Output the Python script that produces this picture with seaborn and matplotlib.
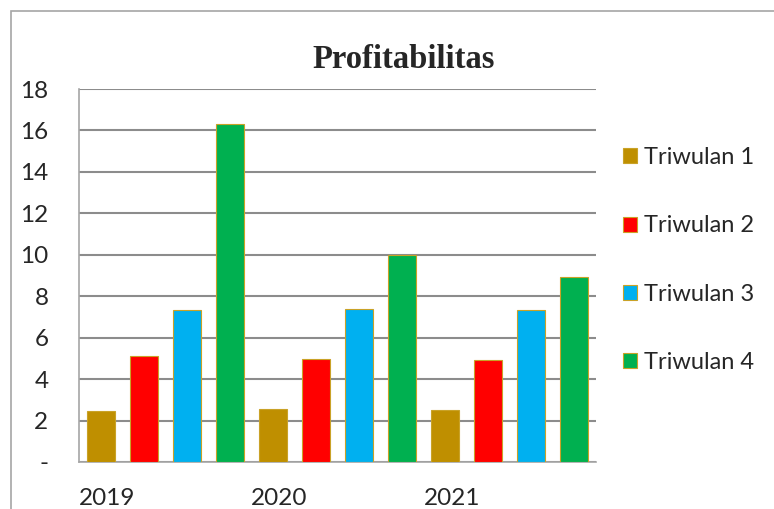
import numpy as np
import pandas as pd
import matplotlib
matplotlib.use("Agg")
import matplotlib.pyplot as plt
from matplotlib.patches import Rectangle
import seaborn as sns

# data
years = ["2019", "2020", "2021"]
quarters = ["Triwulan 1", "Triwulan 2", "Triwulan 3", "Triwulan 4"]
tw1 = [2.45, 2.55, 2.5]
tw2 = [5.1, 4.97, 4.92]
tw3 = [7.33, 7.38, 7.33]
tw4 = [16.31, 9.99, 8.93]
colors = ["#BF8F00", "#FF0000", "#00B0F0", "#00B050"]

df = pd.DataFrame({"year": years * 4,
                   "quarter": np.repeat(quarters, 3),
                   "value": tw1 + tw2 + tw3 + tw4})

sns.set_style("white")
plt.rcParams["font.family"] = ["Lato", "DejaVu Sans"]

fig = plt.figure(figsize=(7.74, 5.09), dpi=100)
ax = fig.add_axes([79 / 774, 47 / 509, 517 / 774, 373 / 509])

sns.barplot(data=df, x="year", y="value", hue="quarter", palette=colors,
            saturation=1, width=1.0, gap=0.35, edgecolor="#C9A227",
            linewidth=0.8, ax=ax, legend=True, zorder=3)

ax.set_xlim(-0.5, 2.5)
ax.set_ylim(0, 18)
ax.set_yticks(range(0, 19, 2))
ax.set_yticklabels(["-"] + [str(v) for v in range(2, 19, 2)])
ax.set_xticks(np.arange(3) - 0.337)
ax.set_xticklabels(years)
ax.tick_params(axis="y", length=0, pad=22, labelsize=17.5)
ax.tick_params(axis="x", length=0, pad=19, labelsize=17.5)
ax.set_xlabel("")
ax.set_ylabel("")
ax.grid(axis="y", color="#8C8C8C", linewidth=1.5, zorder=0)
ax.set_axisbelow(True)
for s in ["top", "right"]:
    ax.spines[s].set_visible(False)
for s in ["left", "bottom"]:
    ax.spines[s].set_color("#A6A6A6")
    ax.spines[s].set_linewidth(1.2)

handles, labels = ax.get_legend_handles_labels()
ax.get_legend().remove()
fig.legend(handles, labels, loc="center left",
           bbox_to_anchor=(602 / 774, (509 - 260) / 509),
           frameon=False, fontsize=17, labelspacing=2.0,
           handlelength=0.6, handleheight=0.6, handletextpad=0.3)

fig.text(404 / 774, (509 - 60) / 509, "Profitabilitas", ha="center", va="center",
         fontsize=23.5, fontweight="bold", family="Liberation Serif")

# chart frame
fig.patches.append(Rectangle((11 / 774, -0.1), 1.2, 1.1 - 11 / 509,
                             transform=fig.transFigure, fill=False,
                             edgecolor="#A6A6A6", linewidth=1.2))

fig.savefig("out.png", dpi=100)
